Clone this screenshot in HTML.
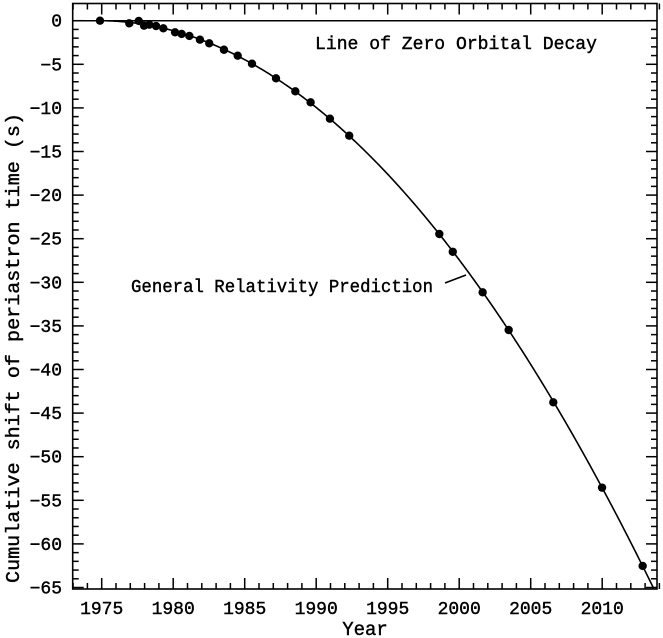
<!DOCTYPE html>
<html>
<head>
<meta charset="utf-8">
<style>
html,body{margin:0;padding:0;background:#fff;}
svg{display:block;}
text{font-family:"Liberation Mono","DejaVu Sans Mono",monospace;fill:#000;stroke:#000;stroke-width:0.4;}
</style>
</head>
<body>
<svg id="chart" width="663" height="638" viewBox="0 0 663 638" xmlns="http://www.w3.org/2000/svg">
  <g id="plot"></g>
</svg>
<script>
// Data
const obsYears = [1974.88,1976.93,1977.59,1977.96,1978.33,1978.80,1979.31,1980.13,1980.59,1981.13,1981.87,1982.52,1983.55,1984.51,1985.51,1987.19,1988.54,1989.61,1990.96,1992.31,1998.61,1999.55,2001.64,2003.46,2006.58,2009.99,2012.83];
const obsShift = [0.0,-0.30,-0.03,-0.57,-0.46,-0.61,-0.87,-1.33,-1.52,-1.75,-2.18,-2.59,-3.33,-4.01,-4.93,-6.61,-8.10,-9.36,-11.24,-13.19,-24.46,-26.50,-31.15,-35.47,-43.76,-53.55,-62.53];
const grEpoch = [1974.85];
const grCoeff = [0.04336];
const xTickLabels = [1975,1980,1985,1990,1995,2000,2005,2010];
const yTickLabels = [0,-5,-10,-15,-20,-25,-30,-35,-40,-45,-50,-55,-60,-65];

const NS = "http://www.w3.org/2000/svg";
const X0 = 72.7, X1 = 657, Y0 = 3.5, Y1 = 589;
function xs(t){ return 101.7 + (t - 1975) * 14.3; }
function ys(v){ return 20.7 - v * 8.72; }
const g = document.getElementById('plot');
function mk(tag, attrs){ const e = document.createElementNS(NS, tag); for (const k in attrs) e.setAttribute(k, attrs[k]); g.appendChild(e); return e; }

// frame
const frame = mk('rect',{x:X0,y:Y0,width:X1-X0,height:Y1-Y0,fill:'none',stroke:'#000','stroke-width':1.6});



// x ticks
for (let yr = 1973; yr <= 2014; yr++){
  const x = xs(yr); const major = yr % 5 === 0; const L = major ? 11 : 6;
  const t1 = mk('line',{x1:x,y1:Y1,x2:x,y2:Y1-L,stroke:'#000','stroke-width':1.5});
  
  
  const t2 = mk('line',{x1:x,y1:Y0,x2:x,y2:Y0+L,stroke:'#000','stroke-width':1.5});
  
  
}
xTickLabels.forEach(v => {
  const t = mk('text',{x:xs(v),y:614,'text-anchor':'middle','font-size':18});
  t.textContent = v;
  
  
});
// y ticks
for (let v = 0; v >= -65; v--){
  const y = ys(v); const major = v % 5 === 0; const L = major ? 11 : 6;
  const t1 = mk('line',{x1:X0,y1:y,x2:X0+L,y2:y,stroke:'#000','stroke-width':1.5});
  
  
  const t2 = mk('line',{x1:X1,y1:y,x2:X1-L,y2:y,stroke:'#000','stroke-width':1.5});
  
  
}
yTickLabels.forEach(v => {
  const t = mk('text',{x:62,y:ys(v)+6,'text-anchor':'end','font-size':18});
  t.textContent = v === 0 ? '0' : '\u2212' + Math.abs(v);
  
  
});

// zero line
const zl = mk('line',{x1:X0,y1:ys(0),x2:X1,y2:ys(0),stroke:'#000','stroke-width':1.5});



// GR curve
let d = '';
for (let t = grEpoch[0]; t <= 2014.2; t += 0.1){
  const y = ys(-grCoeff[0] * (t - grEpoch[0]) ** 2);
  if (y > Y1) { break; }
  d += (d ? 'L' : 'M') + xs(t).toFixed(2) + ',' + y.toFixed(2);
}
const tEnd = grEpoch[0] + Math.sqrt(65 / grCoeff[0]);
d += 'L' + xs(tEnd).toFixed(2) + ',' + Y1;
const curve = mk('path',{d:d,fill:'none',stroke:'#000','stroke-width':1.6});



// points
obsYears.forEach((t,i) => {
  const c = mk('circle',{cx:xs(t),cy:ys(obsShift[i]),r:4.2,fill:'#000'});
  
  
});

// annotations
const a1 = mk('text',{x:315,y:49,'font-size':18,textLength:282,lengthAdjust:'spacingAndGlyphs'});
a1.textContent = 'Line of Zero Orbital Decay';


const a2 = mk('text',{x:131,y:292,'font-size':18,textLength:302,lengthAdjust:'spacingAndGlyphs'});
a2.textContent = 'General Relativity Prediction';


const ld = mk('line',{x1:445,y1:283,x2:466,y2:275,stroke:'#000','stroke-width':1.5});



// axis titles
const xt = mk('text',{x:365,y:635,'text-anchor':'middle','font-size':19});
xt.textContent = 'Year';


const yt = mk('text',{x:0,y:0,'text-anchor':'middle','font-size':19,transform:'translate(19,348) rotate(-90)',textLength:470,lengthAdjust:'spacingAndGlyphs'});
yt.textContent = 'Cumulative shift of periastron time (s)';


</script>
</body>
</html>
